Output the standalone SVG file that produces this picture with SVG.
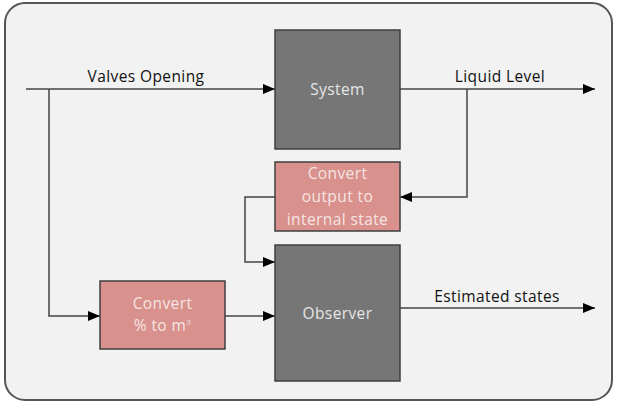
<svg xmlns="http://www.w3.org/2000/svg" width="617" height="403" viewBox="0 0 617 403">
<defs>
<marker id="arr" markerWidth="12" markerHeight="10" refX="12" refY="5" orient="auto" markerUnits="userSpaceOnUse">
<path d="M0,0 L12,5 L0,10 Z" fill="#000"/>
</marker>
<style>
.frame{fill:#f2f2f2;stroke:#555;stroke-width:2}
.dark{fill:#767676;stroke:#3f3f3f;stroke-width:1.5}
.pink{fill:#d8918d;stroke:#3f3f3f;stroke-width:1.5}
.lbl{font-family:"Open Sans","Noto Sans",sans-serif;font-size:15.5px;letter-spacing:0.4px;fill:#111}
.tin{font-family:"Open Sans","Noto Sans",sans-serif;font-size:15.5px;letter-spacing:0.4px;fill:#e6e6e6;text-anchor:middle}
.tp{font-family:"Open Sans","Noto Sans",sans-serif;font-size:15.5px;letter-spacing:0.4px;fill:#f6e4e2;text-anchor:middle}
.ln{fill:none;stroke:#444;stroke-width:1.5}
.arw{fill:none;stroke:#444;stroke-width:1.5;marker-end:url(#arr)}
</style>
</defs>
<rect width="617" height="403" fill="#fff"/>
<rect class="frame" x="5" y="3" width="607" height="397" rx="20" ry="20"/>
<g id="connectors">
<path class="arw" d="M26,89 H275"/>
<path class="arw" d="M49,89 V316 H100"/>
<path class="arw" d="M225,316 H275"/>
<path class="arw" d="M400,89 H595"/>
<path class="arw" d="M467,89 V197 H400"/>
<path class="arw" d="M275,197 H245 V262 H275"/>
<path class="arw" d="M400,308 H595"/>
<text class="lbl" x="146" y="82" text-anchor="middle">Valves Opening</text>
<text class="lbl" x="500" y="82" text-anchor="middle">Liquid Level</text>
<text class="lbl" x="497" y="302" text-anchor="middle">Estimated states</text>
</g>
<g id="system">
<rect class="dark" x="275" y="30" width="125" height="119"/>
<text class="tin" x="337.5" y="95">System</text>
</g>
<g id="convert-output">
<rect class="pink" x="275" y="162" width="125" height="69"/>
<text class="tp" x="337.5" y="179">Convert</text>
<text class="tp" x="337.5" y="202">output to</text>
<text class="tp" x="337.5" y="225">internal state</text>
</g>
<g id="convert-percent">
<rect class="pink" x="100" y="281" width="125" height="68"/>
<text class="tp" x="162.5" y="309">Convert</text>
<text class="tp" x="162.5" y="331">% to m<tspan font-size="8" dy="-6">3</tspan></text>
</g>
<g id="observer">
<rect class="dark" x="275" y="245" width="125" height="136"/>
<text class="tin" x="337.5" y="319">Observer</text>
</g>
</svg>
